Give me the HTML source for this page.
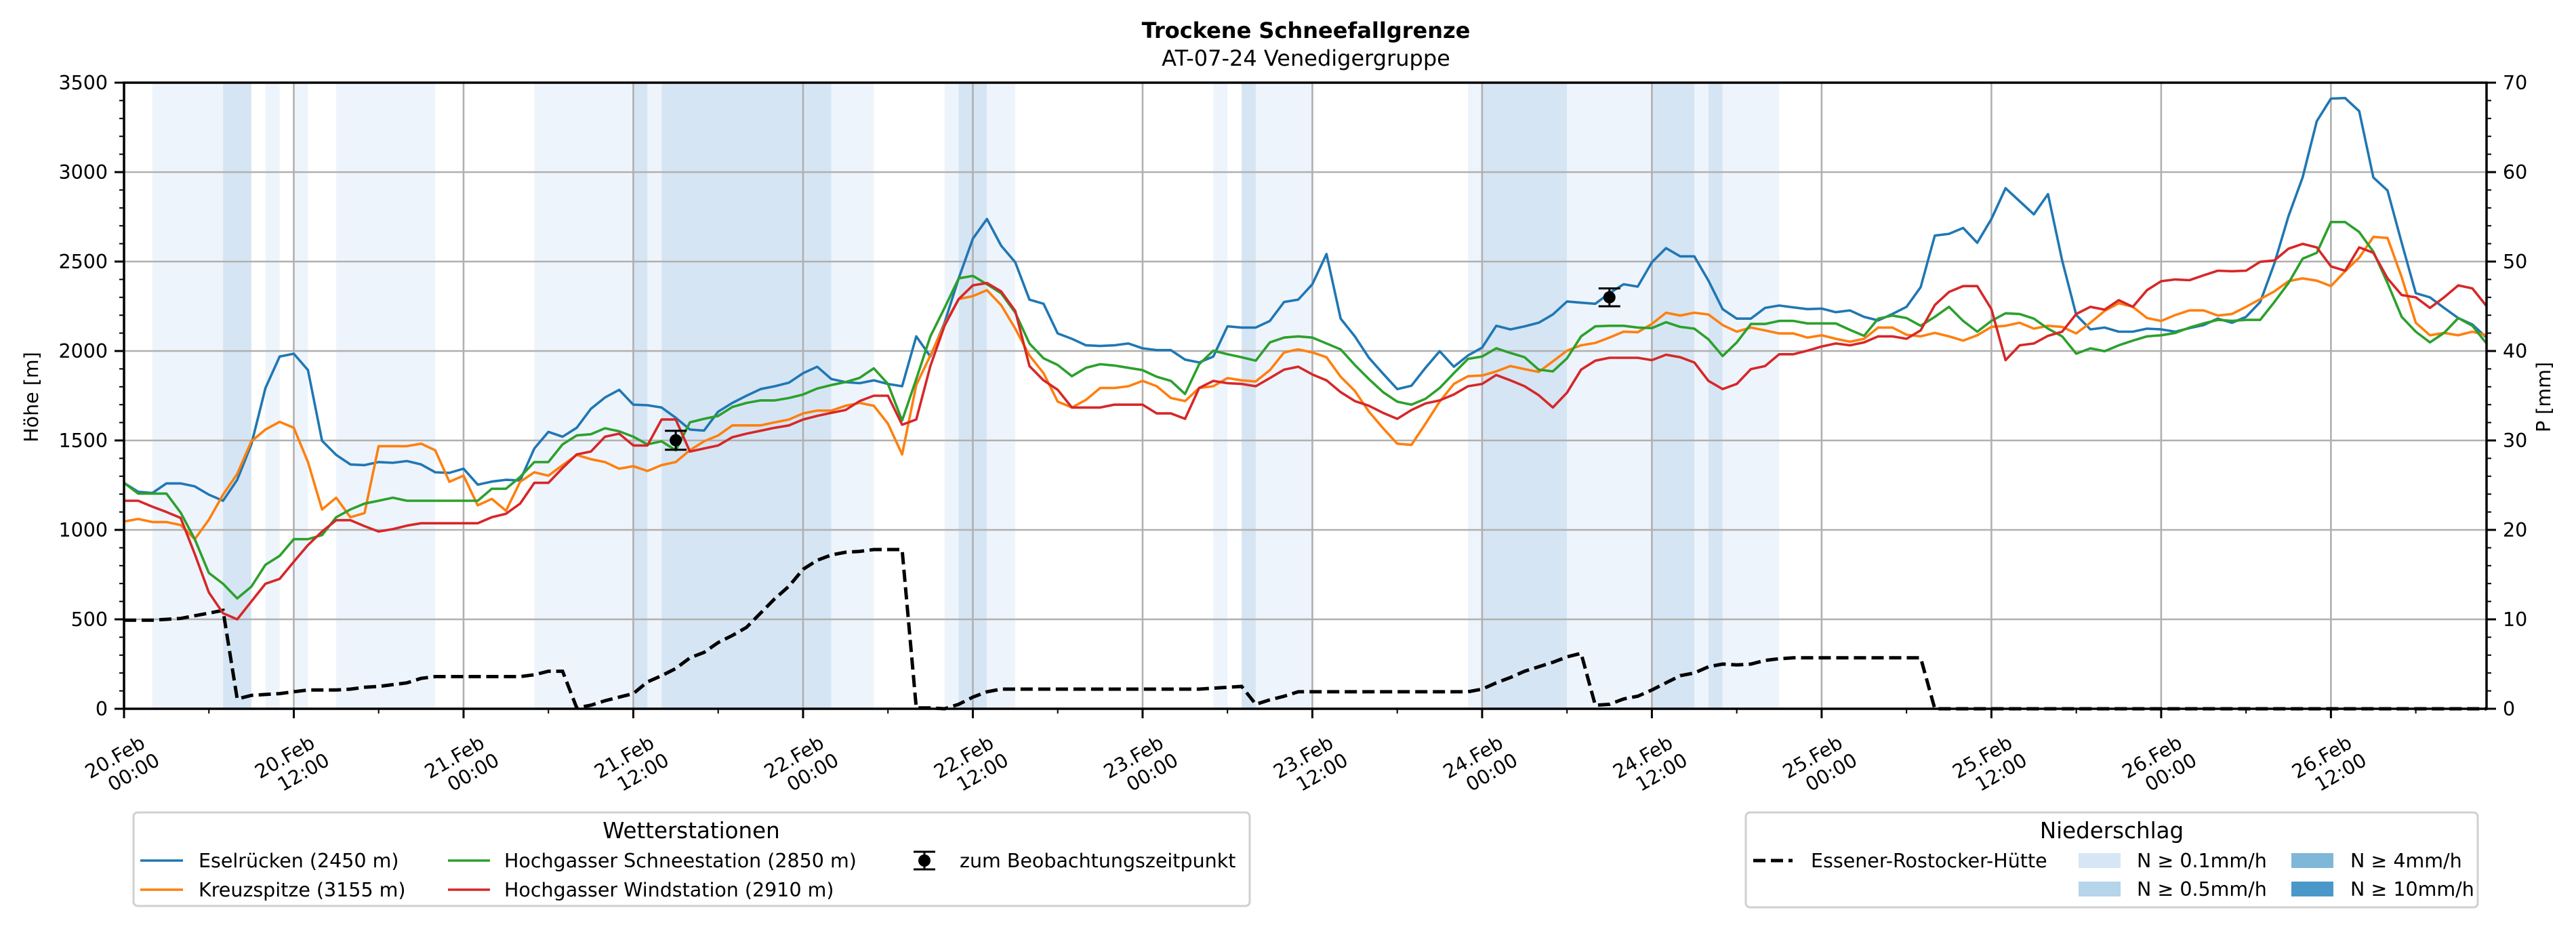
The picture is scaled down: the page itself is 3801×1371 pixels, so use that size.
<!DOCTYPE html>
<html><head><meta charset="utf-8">
<style>
html,body{margin:0;padding:0;background:#fff;}
svg{display:block;font-family:"DejaVu Sans","Liberation Sans",sans-serif;}
</style></head>
<body>
<svg id="chart" xmlns="http://www.w3.org/2000/svg" width="3801" height="1371" viewBox="0 0 3801 1371">
<rect x="0" y="0" width="3801" height="1371" fill="#ffffff"/>
<text x="1927" y="56" text-anchor="middle" font-size="32" font-weight="bold">Trockene Schneefallgrenze</text>
<text x="1927" y="97" text-anchor="middle" font-size="32">AT-07-24 Venedigergruppe</text>
<g id="bands"></g>
<g id="grid"></g>
<g id="series"></g>
<g id="axes"></g>
<text transform="translate(56,586) rotate(-90)" text-anchor="middle" font-size="28.5">Höhe [m]</text>
<text transform="translate(3763,586) rotate(-90)" text-anchor="middle" font-size="28.5">P [mm]</text>

<g>
<rect x="197" y="1199" width="1647" height="138" rx="6" fill="#fff" stroke="#d0d0d0" stroke-width="3"/>
<text x="1020" y="1237" text-anchor="middle" font-size="32.5">Wetterstationen</text>
<g><line x1="207" y1="1270" x2="270" y2="1270" stroke="#1f77b4" stroke-width="3.6"/><text x="293" y="1280" font-size="28.5">Eselrücken (2450 m)</text></g>
<g><line x1="207" y1="1313" x2="270" y2="1313" stroke="#ff7f0e" stroke-width="3.6"/><text x="293" y="1323" font-size="28.5">Kreuzspitze (3155 m)</text></g>
<g><line x1="661" y1="1270" x2="723" y2="1270" stroke="#2ca02c" stroke-width="3.6"/><text x="744" y="1280" font-size="28.5">Hochgasser Schneestation (2850 m)</text></g>
<g><line x1="661" y1="1313" x2="723" y2="1313" stroke="#d62728" stroke-width="3.6"/><text x="744" y="1323" font-size="28.5">Hochgasser Windstation (2910 m)</text></g>
<g><line x1="1364" y1="1257" x2="1364" y2="1283" stroke="#000" stroke-width="3"/><line x1="1348" y1="1257" x2="1380" y2="1257" stroke="#000" stroke-width="3"/><line x1="1348" y1="1283" x2="1380" y2="1283" stroke="#000" stroke-width="3"/><circle cx="1364" cy="1270" r="9" fill="#000"/><text x="1416" y="1280" font-size="28.5">zum Beobachtungszeitpunkt</text></g>
</g>

<g>
<rect x="2576" y="1199" width="1080" height="140" rx="6" fill="#fff" stroke="#d0d0d0" stroke-width="3"/>
<text x="3116" y="1237" text-anchor="middle" font-size="32.5">Niederschlag</text>
<g><line x1="2587" y1="1270" x2="2645" y2="1270" stroke="#000" stroke-width="5" stroke-dasharray="18,8"/><text x="2672" y="1280" font-size="28.5">Essener-Rostocker-Hütte</text></g>
<g><rect x="3067" y="1259" width="62" height="22" fill="#d6e6f4"/><text x="3153" y="1280" font-size="28.5">N ≥ 0.1mm/h</text></g>
<g><rect x="3067" y="1301" width="62" height="22" fill="#b6d4ea"/><text x="3153" y="1322" font-size="28.5">N ≥ 0.5mm/h</text></g>
<g><rect x="3381" y="1259" width="62" height="22" fill="#7fb7d9"/><text x="3468" y="1280" font-size="28.5">N ≥ 4mm/h</text></g>
<g><rect x="3381" y="1301" width="62" height="22" fill="#4a98c9"/><text x="3468" y="1322" font-size="28.5">N ≥ 10mm/h</text></g>
</g>
</svg>
<script>
const eselruecken = [1263,1213,1206,1260,1260,1243,1197,1163,1280,1478,1793,1969,1985,1893,1498,1419,1366,1362,1379,1375,1385,1366,1322,1319,1342,1253,1270,1280,1276,1455,1548,1521,1571,1677,1740,1783,1700,1697,1684,1627,1561,1555,1661,1710,1750,1787,1803,1823,1876,1912,1843,1826,1820,1836,
1816,1803,2082,1969,2158,2406,2628,2738,2589,2496,2287,2264,2098,2068,2032,2028,2032,2042,2015,2005,2005,1952,1936,1969,2138,2131,2131,2168,2274,2287,2373,2542,2181,2082,1962,1873,1787,1806,1906,1999,1912,1975,2019,2141,2121,2138,2158,2204,2277,2270,2264,2323,2373,2360,2496,2575,2529,2529,2393,2234,
2181,2181,2241,2254,2244,2234,2237,2217,2227,2191,2171,2207,2247,2357,2645,2655,2688,2605,2738,2910,2837,2764,2877,2506,2201,2121,2131,2108,2108,2125,2121,2108,2128,2145,2181,2158,2191,2274,2489,2754,2970,3285,3411,3414,3341,2970,2897,2605,2323,2300,2241,2184,2148,2075];
const kreuzspitze = [1047,1061,1044,1044,1027,948,1057,1197,1313,1495,1561,1604,1571,1379,1114,1180,1071,1094,1468,1468,1468,1482,1445,1269,1303,1137,1173,1107,1269,1322,1303,1362,1419,1395,1379,1342,1356,1329,1362,1379,1445,1495,1528,1584,1584,1584,1601,1617,1651,1667,1667,1694,1710,1694,
1594,1422,1810,1975,2148,2290,2307,2340,2257,2125,1975,1876,1717,1684,1727,1793,1793,1803,1833,1803,1737,1720,1793,1803,1849,1836,1830,1893,1992,2009,1992,1965,1856,1777,1661,1568,1482,1475,1594,1717,1816,1859,1863,1886,1916,1899,1883,1942,2002,2032,2045,2075,2108,2105,2151,2214,2198,2214,2204,2145,
2108,2131,2115,2098,2098,2075,2088,2068,2052,2068,2131,2131,2091,2082,2101,2082,2058,2088,2135,2141,2158,2125,2141,2135,2098,2158,2224,2267,2247,2184,2168,2201,2227,2227,2198,2207,2247,2290,2333,2390,2406,2393,2363,2446,2522,2638,2632,2413,2158,2088,2101,2088,2108,2088];
const schneestation = [1263,1203,1203,1203,1097,948,759,699,617,683,805,855,948,948,971,1071,1114,1147,1163,1180,1163,1163,1163,1163,1163,1163,1230,1230,1296,1379,1379,1478,1528,1535,1568,1551,1521,1478,1495,1445,1601,1621,1637,1687,1710,1724,1724,1737,1757,1790,1810,1826,1850,1903,
1816,1611,1843,2082,2241,2406,2420,2373,2323,2214,2042,1959,1922,1859,1906,1926,1919,1906,1893,1856,1833,1760,1926,2002,1982,1965,1946,2048,2075,2082,2075,2042,2009,1922,1843,1770,1717,1700,1733,1793,1876,1956,1969,2015,1989,1965,1896,1886,1959,2082,2138,2141,2141,2131,2128,2161,2135,2125,2065,1972,
2048,2151,2151,2168,2168,2154,2154,2154,2118,2085,2181,2198,2184,2141,2191,2247,2168,2108,2168,2211,2207,2181,2125,2082,1985,2015,1999,2032,2058,2082,2088,2101,2131,2154,2174,2168,2174,2174,2274,2380,2516,2549,2721,2721,2665,2555,2380,2191,2108,2048,2101,2184,2141,2042];
const windstation = [1163,1163,1130,1100,1067,865,650,534,500,600,699,726,822,915,991,1054,1054,1021,991,1004,1024,1037,1037,1037,1037,1037,1071,1090,1147,1263,1263,1346,1422,1438,1521,1538,1472,1472,1617,1617,1438,1455,1472,1518,1538,1554,1571,1584,1617,1637,1654,1670,1720,1750,
1750,1588,1617,1916,2141,2290,2367,2380,2333,2224,1916,1836,1783,1684,1684,1684,1700,1700,1700,1651,1651,1621,1793,1833,1820,1816,1803,1849,1896,1912,1869,1836,1770,1720,1694,1654,1621,1670,1707,1724,1757,1803,1816,1866,1836,1803,1753,1684,1767,1896,1946,1962,1962,1962,1949,1979,1965,1936,1833,1787,
1816,1899,1916,1982,1982,2002,2025,2042,2032,2048,2082,2082,2068,2115,2257,2330,2363,2363,2234,1949,2032,2042,2085,2108,2207,2247,2231,2284,2247,2340,2390,2400,2396,2423,2449,2446,2449,2499,2506,2572,2599,2579,2473,2449,2579,2549,2406,2313,2300,2241,2300,2367,2350,2251];
const precipMm = [9.9,9.9,9.9,10,10.1,10.4,10.7,11,1.1,1.5,1.6,1.7,1.9,2.1,2.1,2.1,2.2,2.4,2.5,2.7,2.9,3.4,3.6,3.6,3.6,3.6,3.6,3.6,3.6,3.8,4.2,4.2,0.1,0.4,0.9,1.3,1.7,3.0,3.7,4.5,5.7,6.3,7.4,8.2,9.1,10.7,12.3,13.7,15.6,16.6,17.2,17.5,17.6,17.8,
17.8,17.8,0.1,0.1,0,0.5,1.3,1.9,2.2,2.2,2.2,2.2,2.2,2.2,2.2,2.2,2.2,2.2,2.2,2.2,2.2,2.2,2.2,2.3,2.4,2.5,0.5,1.0,1.4,1.9,1.9,1.9,1.9,1.9,1.9,1.9,1.9,1.9,1.9,1.9,1.9,1.9,2.2,2.9,3.5,4.2,4.7,5.2,5.8,6.2,0.4,0.5,1.1,1.4,2.1,2.9,3.7,4.0,4.7,5.0,
4.9,5.0,5.4,5.6,5.7,5.7,5.7,5.7,5.7,5.7,5.7,5.7,5.7,5.7,0,0,0,0,0,0,0,0,0,0,0,0,0,0,0,0,0,0,0,0,0,0,0,0,0,0,0,0,0,0,0,0,0,0,0,0,0,0,0,0];
const bandStart = [2,7,10,12,15,29,36,37,38,50,58,59,61,77,79,80,95,96,102,108,111,112,113];
const bandEnd   = [7,9,11,13,22,36,37,38,50,53,59,61,63,78,80,84,96,102,108,111,112,113,117];
const bandLevel = [1,2,1,1,1,1,2,1,2,1,1,2,1,1,2,1,1,2,1,2,1,2,1];
const obsHour = [39,105];
const obsValue = [1501,2300];
const obsErr = [53,50];
const yTicks = [0,500,1000,1500,2000,2500,3000,3500];
const y2Ticks = [0,10,20,30,40,50,60,70];
const dayLabels = ["20.Feb","21.Feb","22.Feb","23.Feb","24.Feb","25.Feb","26.Feb"];
const timeLabels = ["00:00","12:00"];

const X0=183, X1=3669, Y0=1046, Y1=122, HMAX=167;
const NS="http://www.w3.org/2000/svg";
function xs(h){return X0+(X1-X0)*h/HMAX;}
function ys(v){return Y0-(Y0-Y1)*v/3500;}
function ys2(p){return Y0-(Y0-Y1)*p/70;}
function mk(tag,attrs,parent){const e=document.createElementNS(NS,tag);for(const k in attrs)e.setAttribute(k,attrs[k]);parent.appendChild(e);return e;}

const gB=document.getElementById('bands'), gG=document.getElementById('grid'), gS=document.getElementById('series'), gA=document.getElementById('axes');
const bandColors={1:'#eef4fb',2:'#d6e5f3'};
for(let i=0;i<bandStart.length;i++){
  const r=mk('rect',{x:xs(bandStart[i]),y:Y1,width:xs(bandEnd[i])-xs(bandStart[i]),height:Y0-Y1,fill:bandColors[bandLevel[i]]},gB);
  
  
}
for(const v of yTicks){ if(v===0||v===3500) continue; mk('line',{x1:X0,x2:X1,y1:ys(v),y2:ys(v),stroke:'#b0b0b0','stroke-width':2.6},gG); }
for(let h=12;h<HMAX;h+=12){ mk('line',{x1:xs(h),x2:xs(h),y1:Y1,y2:Y0,stroke:'#b0b0b0','stroke-width':2.6},gG); }

function path(vals,scale){return vals.map((v,i)=>(i?'L':'M')+xs(i).toFixed(1)+','+scale(v).toFixed(1)).join(' ');}
const pr=mk('path',{d:path(precipMm,ys2),fill:'none',stroke:'#000','stroke-width':5,'stroke-dasharray':'18,8'},gS);


const series=[[eselruecken,'#1f77b4','line-eselruecken'],[kreuzspitze,'#ff7f0e','line-kreuzspitze'],[schneestation,'#2ca02c','line-schneestation'],[windstation,'#d62728','line-windstation']];
for(const s of series){
  const p=mk('path',{d:path(s[0],ys),fill:'none',stroke:s[1],'stroke-width':3.6,'stroke-linejoin':'round'},gS);
  
  
}
for(let i=0;i<obsHour.length;i++){
  const g=mk('g',{},gS);
  
  
  const x=xs(obsHour[i]), yt=ys(obsValue[i]+obsErr[i]), yb=ys(obsValue[i]-obsErr[i]);
  mk('line',{x1:x,x2:x,y1:yt,y2:yb,stroke:'#000','stroke-width':3},g);
  mk('line',{x1:x-16,x2:x+16,y1:yt,y2:yt,stroke:'#000','stroke-width':3},g);
  mk('line',{x1:x-16,x2:x+16,y1:yb,y2:yb,stroke:'#000','stroke-width':3},g);
  mk('circle',{cx:x,cy:ys(obsValue[i]),r:9,fill:'#000'},g);
}
mk('rect',{x:X0,y:Y1,width:X1-X0,height:Y0-Y1,fill:'none',stroke:'#000','stroke-width':3.5},gA);
for(let v=0;v<=3500;v+=100){const maj=v%500===0;mk('line',{x1:X0-(maj?14:7),x2:X0,y1:ys(v),y2:ys(v),stroke:'#000','stroke-width':maj?3:2},gA);}
for(const v of yTicks){const t=mk('text',{x:X0-24,y:ys(v)+10,'text-anchor':'end','font-size':28.5},gA);t.textContent=v;
  
  }
for(let p=0;p<=70;p+=2){const maj=p%10===0;mk('line',{x1:X1,x2:X1+(maj?14:7),y1:ys2(p),y2:ys2(p),stroke:'#000','stroke-width':maj?3:2},gA);}
for(const p of y2Ticks){const t=mk('text',{x:X1+24,y:ys2(p)+10,'font-size':28.5},gA);t.textContent=p;
  
  }
for(let h=0;h<=HMAX;h+=6){const maj=h%12===0;mk('line',{x1:xs(h),x2:xs(h),y1:Y0,y2:Y0+(maj?14:7),stroke:'#000','stroke-width':maj?3:2},gA);}
for(let d=0;d<dayLabels.length;d++){
  for(let k=0;k<2;k++){
    const h=d*24+k*12;
    const g=mk('g',{transform:'translate('+(xs(h)+33)+',1102) rotate(-30)'},gA);
    
    
    const t1=mk('text',{x:0,y:0,'text-anchor':'end','font-size':28.5},g);t1.textContent=dayLabels[d];
    const t2=mk('text',{x:6,y:33,'text-anchor':'end','font-size':28.5},g);t2.textContent=timeLabels[k];
  }
}
</script>
</body></html>
